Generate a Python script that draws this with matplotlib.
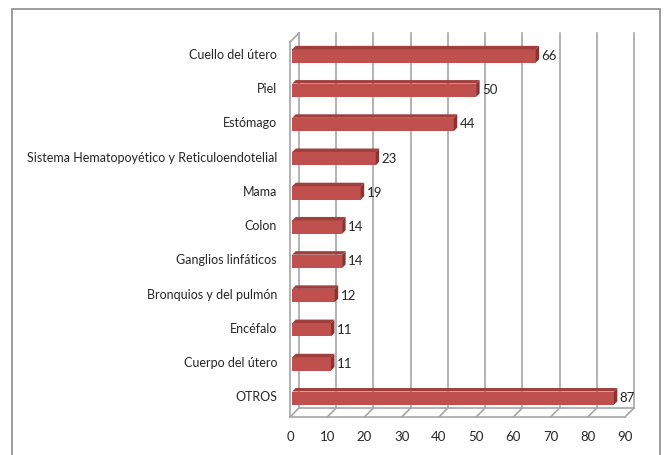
import matplotlib
matplotlib.use("Agg")
import matplotlib.pyplot as plt
import matplotlib.transforms as mtransforms
from matplotlib.patches import Rectangle, Polygon

categories = ["Cuello del útero", "Piel", "Estómago",
              "Sistema Hematopoyético y Reticuloendotelial", "Mama", "Colon",
              "Ganglios linfáticos", "Bronquios y del pulmón", "Encéfalo",
              "Cuerpo del útero", "OTROS"]
values = [66, 50, 44, 23, 19, 14, 14, 12, 11, 11, 87]
xticks = [0, 10, 20, 30, 40, 50, 60, 70, 80, 90]

W, H = 664, 455
fig = plt.figure(figsize=(W / 100, H / 100), dpi=100)
plt.rcParams['font.family'] = ['Lato', 'DejaVu Sans']

left, right, top, bottom = 290, 625, 42, 417
ax = fig.add_axes([left / W, 1 - bottom / H, (right - left) / W, (bottom - top) / H])
ax.set_xlim(0, 90)
n = len(categories)
ax.set_ylim(n - 1 + 0.55, -0.41)
ax.axis('off')

fig.patches.append(Rectangle((12 / W, -0.05), (660 - 12) / W, 1 - 9 / H + 0.05,
                             transform=fig.transFigure, fill=False,
                             edgecolor='#8c8c8c', lw=1.2, zorder=0))

depth = 9
back = ax.transData + mtransforms.ScaledTranslation(depth / 100, depth / 100, fig.dpi_scale_trans)
grid_c = '#a6a6a6'
ylo, yhi = ax.get_ylim()

for v in xticks:
    ax.plot([v, v], [ylo, yhi], transform=back, color=grid_c, lw=1.2, zorder=1,
            clip_on=False)
ax.plot([0, 90], [ylo, ylo], transform=back, color=grid_c, lw=1.2, clip_on=False, zorder=1)
ax.plot([0, 90], [ylo, ylo], color=grid_c, lw=1.2, clip_on=False, zorder=1)
ax.plot([0, 0], [ylo, yhi], color=grid_c, lw=1.2, clip_on=False, zorder=1)
for v in xticks:
    p0 = ax.transData.transform((v, ylo))
    p1 = back.transform((v, ylo))
    ax.plot([p0[0], p1[0]], [p0[1], p1[1]], transform=None, color=grid_c, lw=1.2,
            clip_on=False, zorder=1)
p0 = ax.transData.transform((0, yhi))
p1 = back.transform((0, yhi))
ax.plot([p0[0], p1[0]], [p0[1], p1[1]], transform=None, color=grid_c, lw=1.2,
        clip_on=False, zorder=1)

# bars: front faces through barh, 3D top/right faces as polygons
ypos = list(range(n))
bh = 0.39
x0 = 0.6
d = 3.5
bars = ax.barh(ypos, [v - x0 for v in values], height=bh, left=x0,
               color='#c0504d', zorder=4, clip_on=False)
for b in bars:
    bb = b.get_window_extent(renderer=fig.canvas.get_renderer())
    xa, xb, ya, yb = bb.x0, bb.x1, bb.y0, bb.y1
    topf = Polygon([(xa, yb), (xb, yb), (xb + d, yb + d), (xa + d, yb + d)],
                   closed=True, transform=None, facecolor='#a0403d',
                   edgecolor='none', zorder=5, clip_on=False)
    rightf = Polygon([(xb, ya), (xb + d, ya + d), (xb + d, yb + d), (xb, yb)],
                     closed=True, transform=None, facecolor='#8a3330',
                     edgecolor='none', zorder=5, clip_on=False)
    ax.add_artist(topf)
    ax.add_artist(rightf)

for y, v in zip(ypos, values):
    ax.annotate(str(v), (v, y), xytext=(6, 0), textcoords='offset pixels',
                ha='left', va='center', fontsize=9.5, color='#262626', zorder=6)

for y, c in zip(ypos, categories):
    ax.annotate(c, (0, y), xytext=(-13, 1), textcoords='offset pixels',
                ha='right', va='center', fontsize=9, color='#262626')

for v in xticks:
    ax.annotate(str(v), (v, ylo), xytext=(0, -20), textcoords='offset pixels',
                ha='center', va='center', fontsize=9.5, color='#262626',
                annotation_clip=False)

fig.savefig("out.png", dpi=100)
